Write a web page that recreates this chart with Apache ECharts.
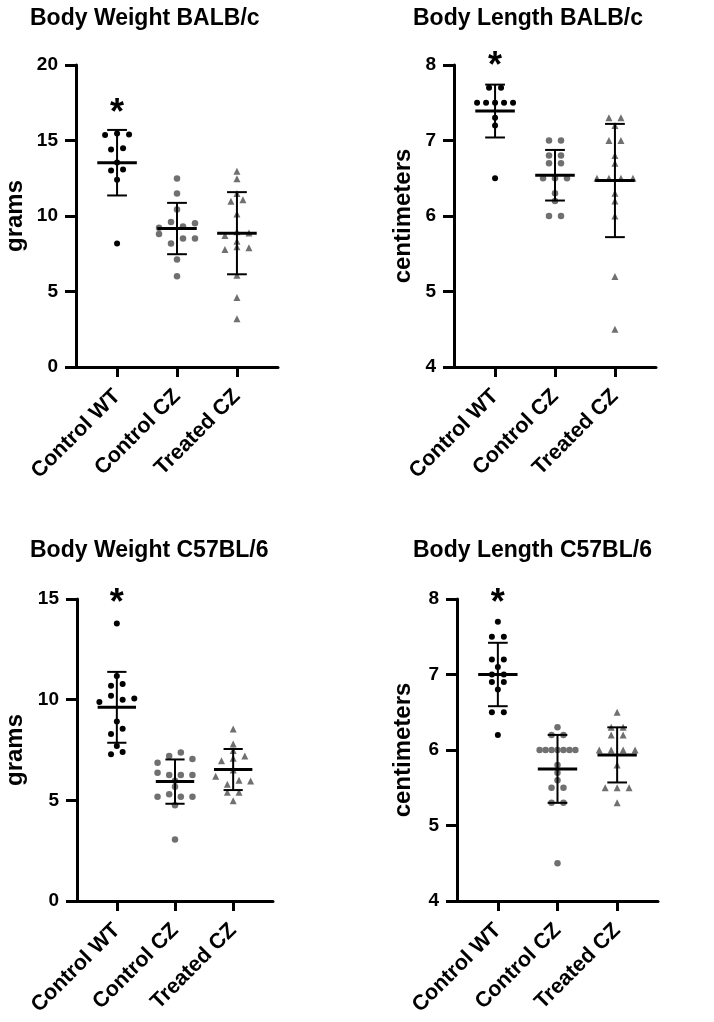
<!DOCTYPE html>
<html><head><meta charset="utf-8">
<script src="https://cdn.jsdelivr.net/npm/echarts@6/dist/echarts.min.js"></script>
<style>html,body{margin:0;padding:0;background:#fff}#c{width:714px;height:1022px}</style>
</head><body><div id="c"></div>
<script>
// ---------- data ----------
const groups = ['Control WT', 'Control CZ', 'Treated CZ'];

// Panel 1: Body Weight BALB/c (grams)
const bwBalbWT = [15.36, 15.47, 15.40, 14.41, 14.48, 13.55, 13.02, 13.08, 12.40, 8.18];
const bwBalbCZ = [12.49, 11.49, 10.43, 9.22, 9.61, 9.30, 9.52, 8.80, 8.18, 8.51, 8.51, 7.12, 6.01];
const bwBalbTR = [12.97, 12.46, 11.49, 10.98, 11.07, 10.14, 8.71, 8.95, 8.88, 8.33, 7.78, 7.96, 7.89, 6.08, 4.60, 3.20];
const bwBalbMean = [13.53, 9.17, 8.86];
const bwBalbSD = [2.17, 1.70, 2.72];

// Panel 2: Body Length BALB/c (centimeters)
const blBalbWT = [7.7, 7.7, 7.5, 7.5, 7.5, 7.5, 7.5, 7.3, 7.2, 6.5];
const blBalbCZ = [7.0, 7.0, 6.8, 6.8, 6.7, 6.7, 6.5, 6.5, 6.5, 6.3, 6.2, 6.0, 6.0];
const blBalbTR = [7.3, 7.3, 7.2, 7.0, 7.0, 6.8, 6.7, 6.5, 6.5, 6.5, 6.5, 6.3, 6.2, 6.0, 5.2, 4.5];
const blBalbMean = [7.39, 6.54, 6.47];
const blBalbSD = [0.35, 0.335, 0.75];

// Panel 3: Body Weight C57BL/6 (grams)
const bwC57WT = [13.78, 11.18, 10.69, 10.78, 9.89, 10.19, 9.99, 10.06, 8.91, 8.30, 8.56, 7.70, 7.29, 7.40];
const bwC57CZ = [6.87, 7.20, 7.37, 7.05, 6.37, 6.26, 6.26, 6.26, 5.97, 5.67, 5.18, 5.30, 5.18, 5.18, 4.76, 3.06];
const bwC57TR = [8.54, 7.80, 7.48, 6.97, 7.09, 7.20, 6.51, 6.19, 5.80, 6.00, 5.96, 5.40, 5.40, 4.98];
const bwC57Mean = [9.62, 5.93, 6.53];
const bwC57SD = [1.76, 1.10, 1.02];

// Panel 4: Body Length C57BL/6 (centimeters)
const blC57WT = [7.7, 7.5, 7.5, 7.2, 7.2, 7.1, 7.0, 7.0, 6.9, 6.9, 6.8, 6.5, 6.5, 6.2];
const blC57CZ = [6.3, 6.2, 6.2, 6.0, 6.0, 6.0, 6.0, 6.0, 6.0, 6.0, 5.8, 5.7, 5.6, 5.5, 5.5, 5.3, 5.3, 4.5];
const blC57TR = [6.5, 6.3, 6.3, 6.2, 6.2, 6.0, 6.0, 6.0, 6.0, 5.8, 5.5, 5.5, 5.5, 5.3];
const blC57Mean = [7.00, 5.75, 5.935];
const blC57SD = [0.42, 0.45, 0.365];

// significance marker height (axis units)
const starY = [17.37, 8.09, 15.18, 8.05];

const titles = ['Body Weight BALB/c', 'Body Length BALB/c', 'Body Weight C57BL/6', 'Body Length C57BL/6'];
const yNames = ['grams', 'centimeters', 'grams', 'centimeters'];
const yMin = [0, 4, 0, 4], yMax = [20, 8, 15, 8], yStep = [5, 1, 5, 1];

// ---------- layout ----------
const FONT = '"Liberation Sans", Arial, Helvetica, sans-serif';
const grids = [
  {left: 76, top: 65, width: 202, height: 302},
  {left: 454, top: 65, width: 202, height: 302},
  {left: 77, top: 599, width: 196, height: 302},
  {left: 457, top: 599, width: 201, height: 302}
];
const nameGaps = [49, 39, 50, 42];
const titlePos = [{left: 30, top: 7}, {left: 413, top: 7}, {left: 30, top: 539}, {left: 413, top: 539}];
const XMIN = -0.685, XMAX = 2.685;
const GRAY = '#707070';

// group points of similar value into rows and spread them symmetrically
function swarm(values, ci, pxPerUnit) {
  const idx = values.map((v, i) => i).sort((a, b) => values[b] - values[a] || a - b);
  const rows = []; let cur = [];
  idx.forEach(i => {
    if (cur.length) {
      const prev = values[cur[cur.length - 1]], first = values[cur[0]];
      if ((prev - values[i]) * pxPerUnit <= 5.3 && (first - values[i]) * pxPerUnit <= 11) { cur.push(i); return; }
      rows.push(cur);
    }
    cur = [i];
  });
  if (cur.length) rows.push(cur);
  const out = [];
  rows.forEach(r => {
    r.sort((a, b) => a - b);
    const n = r.length, step = n > 1 ? Math.min(0.2, 0.6 / (n - 1)) : 0;
    r.forEach((i, k) => out.push([ci + (k - (n - 1) / 2) * step, values[i]]));
  });
  return out;
}

const panels = [
  [bwBalbWT, bwBalbCZ, bwBalbTR, bwBalbMean, bwBalbSD],
  [blBalbWT, blBalbCZ, blBalbTR, blBalbMean, blBalbSD],
  [bwC57WT, bwC57CZ, bwC57TR, bwC57Mean, bwC57SD],
  [blC57WT, blC57CZ, blC57TR, blC57Mean, blC57SD]
];

const option = {
  backgroundColor: '#fff',
  animation: false,
  title: titles.map((t, i) => ({
    text: t, left: titlePos[i].left, top: titlePos[i].top, padding: 0,
    textStyle: {fontFamily: FONT, fontWeight: 'bold', fontSize: 23, color: '#000'}
  })),
  grid: grids.map(g => Object.assign({containLabel: false, outerBoundsMode: 'none'}, g)),
  xAxis: grids.map((g, i) => ({
    type: 'value', gridIndex: i, min: XMIN, max: XMAX,
    splitLine: {show: false},
    axisLine: {show: true, onZero: false, lineStyle: {color: '#000', width: 3}},
    axisTick: {show: true, customValues: [0, 1, 2], length: 10, lineStyle: {color: '#000', width: 3}},
    axisLabel: {
      show: true, customValues: [0, 1, 2], rotate: 45, margin: 26,
      formatter: v => groups[Math.round(v)] || '',
      fontFamily: FONT, fontWeight: 'bold', fontSize: 21.5, color: '#000'
    }
  })),
  yAxis: grids.map((g, i) => ({
    type: 'value', gridIndex: i, min: yMin[i], max: yMax[i], interval: yStep[i],
    name: yNames[i], nameLocation: 'middle', nameGap: nameGaps[i],
    nameTextStyle: {fontFamily: FONT, fontWeight: 'bold', fontSize: 24, color: '#000'},
    splitLine: {show: false},
    axisLine: {show: true, onZero: false, lineStyle: {color: '#000', width: 3}},
    axisTick: {show: true, length: 11, lineStyle: {color: '#000', width: 3}},
    axisLabel: {margin: 18, fontFamily: FONT, fontWeight: 'bold', fontSize: 19, color: '#000'}
  })),
  series: []
};

panels.forEach((p, i) => {
  const ppu = grids[i].height / (yMax[i] - yMin[i]);
  const [wt, cz, tr, mean, sd] = p;
  option.series.push(
    {type: 'scatter', xAxisIndex: i, yAxisIndex: i, symbol: 'circle', symbolSize: 6,
     itemStyle: {color: '#000', opacity: 1}, data: swarm(wt, 0, ppu), z: 2},
    {type: 'scatter', xAxisIndex: i, yAxisIndex: i, symbol: 'circle', symbolSize: 6.5,
     itemStyle: {color: GRAY, opacity: 1}, data: swarm(cz, 1, ppu), z: 2},
    {type: 'scatter', xAxisIndex: i, yAxisIndex: i, symbol: 'triangle', symbolSize: 7,
     itemStyle: {color: GRAY, opacity: 1}, data: swarm(tr, 2, ppu), z: 2},
    {type: 'custom', xAxisIndex: i, yAxisIndex: i, z: 5,
     data: groups.map((g, k) => [k, mean[k], sd[k]]),
     encode: {x: 0, y: 1},
     renderItem: (params, api) => {
       const x = api.value(0), m = api.value(1), s = api.value(2);
       const a = api.coord([x - 0.33, m]), b = api.coord([x + 0.33, m]);
       const t = api.coord([x, m + s]), bt = api.coord([x, m - s]);
       const c1 = api.coord([x - 0.165, m + s]), c2 = api.coord([x + 0.165, m + s]);
       const d1 = api.coord([x - 0.165, m - s]), d2 = api.coord([x + 0.165, m - s]);
       const st = w => ({stroke: '#000', lineWidth: w, fill: null});
       return {type: 'group', children: [
         {type: 'line', shape: {x1: t[0], y1: t[1], x2: bt[0], y2: bt[1]}, style: st(2)},
         {type: 'line', shape: {x1: c1[0], y1: c1[1], x2: c2[0], y2: c2[1]}, style: st(2)},
         {type: 'line', shape: {x1: d1[0], y1: d1[1], x2: d2[0], y2: d2[1]}, style: st(2)},
         {type: 'line', shape: {x1: a[0], y1: a[1], x2: b[0], y2: b[1]}, style: st(3)}
       ]};
     }},
    {type: 'scatter', xAxisIndex: i, yAxisIndex: i, clip: false, symbol: 'circle', symbolSize: 1,
     itemStyle: {color: 'rgba(0,0,0,0)', opacity: 1}, silent: true, z: 6,
     data: [[0, starY[i]]],
     label: {show: true, position: 'inside', formatter: '*', offset: [0, 9],
             fontFamily: FONT, fontWeight: 'bold', fontSize: 36, color: '#000', opacity: 1}}
  );
});

const chart = echarts.init(document.getElementById('c'), null, {renderer: 'canvas'});
chart.setOption(option);
</script>
</body></html>
